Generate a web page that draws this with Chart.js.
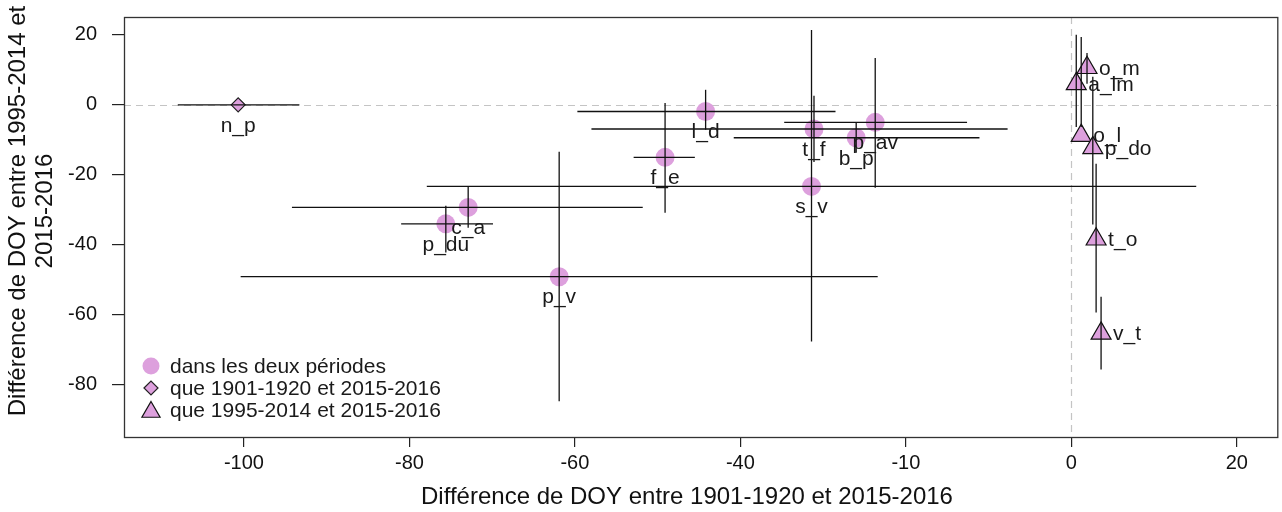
<!DOCTYPE html>
<html><head><meta charset="utf-8">
<script src="https://cdn.jsdelivr.net/npm/chart.js@4.4.1/dist/chart.umd.min.js"></script>
<style>html,body{margin:0;padding:0;background:#fff;overflow:hidden;}#wrap{width:1282px;height:512px;position:relative;overflow:hidden}</style>
</head><body><div id="wrap"><canvas id="c" width="1290" height="512" style="width:1290px;height:512px;display:block"></canvas></div>
<script>
// ---- data ----
const circleLabels = ['l_d','f_e','t_f','s_v','b_p','p_av','c_a','p_du','p_v'];
const circleX      = [-44.2,-49.1,-31.1,-31.4,-26.0,-23.7,-72.9,-75.6,-61.9];
const circleY      = [-1.9,-15.0,-6.9,-23.3,-9.4,-5.0,-29.3,-34.0,-49.1];
const circleXLow   = [-59.7,-52.9,-58.0,-77.9,-40.8,-34.7,-94.2,-81.0,-100.4];
const circleXHigh  = [-28.5,-45.5,-7.7,15.1,-11.1,-12.6,-51.8,-69.9,-23.4];
const circleYLow   = [-7.1,-30.8,-16.3,-67.6,-13.7,-23.7,-35.1,-42.2,-84.7];
const circleYHigh  = [4.3,0.5,2.6,21.4,-5.1,13.4,-23.4,-28.8,-13.4];

const diamondLabels = ['n_p'];
const diamondX      = [-100.7];
const diamondY      = [0];
const diamondXLow   = [-108.0];
const diamondXHigh  = [-93.3];

const triangleLabels = ['o_m','a_lm','o_l','p_do','t_o','v_t'];
const triangleX      = [1.9,0.6,1.2,2.6,3.0,3.6];
const triangleY      = [10.6,6.0,-8.8,-12.3,-38.4,-65.3];
const triangleYLow   = [6.0,-6.3,-6.3,-34.2,-59.3,-75.6];
const triangleYHigh  = [14.8,20.0,19.4,8.0,-16.8,-54.8];

const xTickValues = [-100,-80,-60,-40,-20,0,20];
const xTickLabels = ['-100','-80','-60','-40','-10','0','20'];
const yTickValues = [-80,-60,-40,-20,0,20];

const legendLabels = ['dans les deux périodes','que 1901-1920 et 2015-2016','que 1995-2014 et 2015-2016'];
const xTitle = 'Différence de DOY entre 1901-1920 et 2015-2016';
const yTitleLines = ['Différence de DOY entre 1995-2014 et','2015-2016'];

// ---- styles ----
const PINK = '#DDA0DD';
const FONT = '"Liberation Sans", Arial, sans-serif';

const toPts = (xs, ys) => xs.map((x,i)=>({x:x, y:ys[i]}));

const datasets = [
  {label:legendLabels[0], data:toPts(circleX,circleY), pointStyle:'circle', pointRadius:9.5,
   backgroundColor:PINK, borderWidth:0, pointBorderWidth:0,
   _labels:circleLabels, _pos:'below', _xl:circleXLow, _xh:circleXHigh, _yl:circleYLow, _yh:circleYHigh},
  {label:legendLabels[1], data:toPts(diamondX,diamondY), pointStyle:'rectRot', pointRadius:7,
   backgroundColor:PINK, borderColor:'#222', pointBorderWidth:1.2,
   _labels:diamondLabels, _pos:'below', _xl:diamondXLow, _xh:diamondXHigh, _yl:null, _yh:null},
  {label:legendLabels[2], data:toPts(triangleX,triangleY), pointStyle:'triangle', pointRadius:11.5,
   backgroundColor:PINK, borderColor:'#111', pointBorderWidth:1.2,
   _labels:triangleLabels, _pos:'right', _xl:null, _xh:null, _yl:triangleYLow, _yh:triangleYHigh}
];

const refLines = {
  id:'refLines',
  beforeDatasetsDraw(chart){
    const {ctx, chartArea:a, scales:{x,y}} = chart;
    ctx.save();
    ctx.strokeStyle = '#c4c4c4'; ctx.lineWidth = 1.2; ctx.setLineDash([7,5]);
    const px = Math.round(x.getPixelForValue(0))+0.5, py = Math.round(y.getPixelForValue(0))+0.5;
    ctx.beginPath(); ctx.moveTo(px, a.top); ctx.lineTo(px, a.bottom); ctx.stroke();
    ctx.beginPath(); ctx.moveTo(a.left, py); ctx.lineTo(a.right, py); ctx.stroke();
    ctx.restore();
  }
};

const errAndLabels = {
  id:'errAndLabels',
  afterDatasetsDraw(chart){
    const {ctx, scales:{x,y}} = chart;
    ctx.save();
    ctx.strokeStyle = '#111'; ctx.lineWidth = 1.3; ctx.setLineDash([]);
    chart.data.datasets.forEach(ds=>{
      ds.data.forEach((p,i)=>{
        const px = x.getPixelForValue(p.x), py = y.getPixelForValue(p.y);
        if (ds._xl){
          ctx.beginPath(); ctx.moveTo(x.getPixelForValue(ds._xl[i]), py); ctx.lineTo(x.getPixelForValue(ds._xh[i]), py); ctx.stroke();
        }
        if (ds._yl){
          ctx.beginPath(); ctx.moveTo(px, y.getPixelForValue(ds._yh[i])); ctx.lineTo(px, y.getPixelForValue(ds._yl[i])); ctx.stroke();
        }
      });
    });
    ctx.fillStyle = '#1a1a1a';
    ctx.font = '21px ' + FONT;
    chart.data.datasets.forEach(ds=>{
      ds.data.forEach((p,i)=>{
        const px = x.getPixelForValue(p.x), py = y.getPixelForValue(p.y);
        if (ds._pos === 'below'){
          ctx.textAlign = 'center'; ctx.textBaseline = 'middle';
          ctx.fillText(ds._labels[i], px, py + 21);
        } else {
          ctx.textAlign = 'left'; ctx.textBaseline = 'middle';
          ctx.fillText(ds._labels[i], px + 12, py + 1);
        }
      });
    });
    ctx.restore();
  },
  afterDraw(chart){
    const {ctx, chartArea:a} = chart;
    ctx.save();
    ctx.strokeStyle = '#333'; ctx.lineWidth = 1.3;
    ctx.strokeRect(a.left+0.5, a.top+0.5, a.right-a.left, a.bottom-a.top);
    const lx = 151, ly = [366, 388, 410];
    chart.data.datasets.forEach((ds,i)=>{
      ctx.fillStyle = ds.backgroundColor;
      ctx.strokeStyle = ds.borderColor || '#000';
      ctx.lineWidth = ds.pointBorderWidth;
      Chart.helpers.drawPoint(ctx, {pointStyle:ds.pointStyle, rotation:0,
        radius: i===0 ? 8.5 : (i===1 ? 7 : 10.5), borderWidth: ds.pointBorderWidth}, lx, ly[i] + (i===2?2:0));
    });
    ctx.fillStyle = '#1a1a1a'; ctx.font = '21px ' + FONT;
    ctx.textAlign = 'left'; ctx.textBaseline = 'middle';
    legendLabels.forEach((t,i)=> ctx.fillText(t, 170, ly[i]+1));
    ctx.font = '24px ' + FONT; ctx.fillStyle = '#111';
    ctx.textAlign = 'center'; ctx.textBaseline = 'middle';
    ctx.fillText(xTitle, 687, 497);
    ctx.translate(0, 211);
    ctx.rotate(-Math.PI/2);
    ctx.fillText(yTitleLines[0], 0, 18);
    ctx.fillText(yTitleLines[1], 0, 45);
    ctx.restore();
  }
};

new Chart(document.getElementById('c'), {
  type:'scatter',
  data:{datasets},
  options:{
    responsive:false, animation:false, devicePixelRatio:1,
    layout:{padding:{top:17, right:4, left:0, bottom:0}},
    plugins:{legend:{display:false}, tooltip:{enabled:false}},
    scales:{
      x:{type:'linear', min:-114.5, max:24.9,
        afterBuildTicks: s => { s.ticks = xTickValues.map(v=>({value:v})); },
        afterFit: s => { s.height = 75; s.paddingLeft = 0; s.paddingRight = 0; },
        ticks:{callback:(v,i)=>xTickLabels[i], font:{family:FONT, size:20}, color:'#111', padding:4, maxRotation:0, autoSkip:false},
        grid:{drawOnChartArea:false, drawTicks:true, tickLength:10, color:'#222', lineWidth:1.2},
        border:{display:false}},
      y:{type:'linear', min:-94.9, max:25.1,
        afterBuildTicks: s => { s.ticks = yTickValues.map(v=>({value:v})); },
        afterFit: s => { s.width = 124; s.paddingTop = 0; s.paddingBottom = 0; },
        ticks:{callback:(v)=>String(v), font:{family:FONT, size:20}, color:'#111', padding:15, autoSkip:false},
        grid:{drawOnChartArea:false, drawTicks:true, tickLength:12, color:'#222', lineWidth:1.2},
        border:{display:false}}
    }
  },
  plugins:[refLines, errAndLabels]
});
</script></body></html>
